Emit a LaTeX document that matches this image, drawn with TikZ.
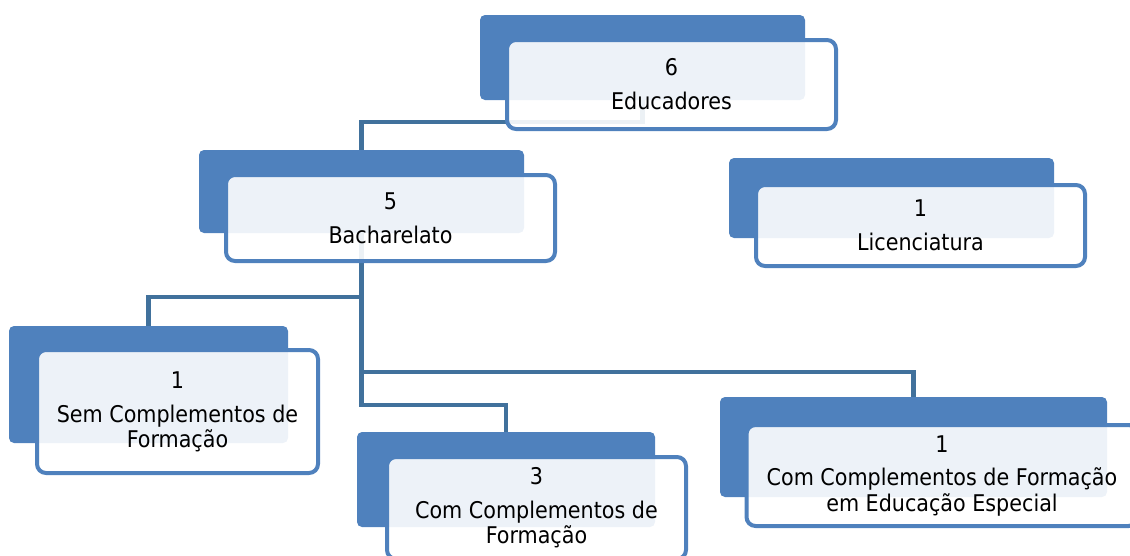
\documentclass[tikz,border=0pt]{standalone}
\usepackage{fontspec}
\setmainfont{DejaVu Sans Condensed}
\definecolor{backblue}{HTML}{4F81BD}
\definecolor{lineblue}{HTML}{41719C}
\tikzset{
  backbox/.style={fill=backblue, rounded corners=5pt, inner sep=0pt},
  frontbox/.style={draw=backblue, line width=4pt, fill=white, fill opacity=0.9,
    text opacity=1, rounded corners=9pt, align=center, inner sep=0pt,
    font=\fontsize{23}{25}\selectfont},
  link/.style={draw=lineblue, line width=4.5pt}
}
\begin{document}
\begin{tikzpicture}[x=1pt,y=-1pt]
	\useasboundingbox (0,0) rectangle (1130,555);
	\clip (0,0) rectangle (1130,555);
	% back boxes
	\node[backbox, minimum width=325pt, minimum height=85pt] (edu) at (642.5,57.5) {};
	\node[backbox, minimum width=325pt, minimum height=83pt] (bach) at (361.5,191.5) {};
	\node[backbox, minimum width=325pt, minimum height=80pt] (lic) at (891.5,198) {};
	\node[backbox, minimum width=279pt, minimum height=117pt] (sem) at (148.5,384.5) {};
	\node[backbox, minimum width=298pt, minimum height=95pt] (com) at (506,479.5) {};
	\node[backbox, minimum width=387pt, minimum height=100pt] (esp) at (913.5,447) {};
	% connectors
	\draw[link] (edu.south) -- ++(0,22) -| (bach.north);
	\draw[link] (bach.south) -- ++(0,64) -| (sem.north);
	\draw[link] (bach.south) -- ++(0,139) -| (esp.north);
	\draw[link] (bach.south) -- ++(0,172) -| (com.north);
	% front boxes
	\node[frontbox, minimum width=329pt, minimum height=89pt] (edutxt) at (671.5,84.5) {6\\[9pt]Educadores};
	\node[frontbox, minimum width=329pt, minimum height=86pt] (bachtxt) at (390.5,218) {5\\[9pt]Bacharelato};
	\node[frontbox, minimum width=329pt, minimum height=81pt] (lictxt) at (920.5,225.5) {1\\[9pt]Licenciatura};
	\node[frontbox, minimum width=281pt, minimum height=123pt] (semtxt) at (177.5,411.5) {1\\[9pt]Sem Complementos de\\Formação};
	\node[frontbox, minimum width=299pt, minimum height=102pt] (comtxt) at (536.5,508) {3\\[9pt]Com Complementos de\\Formação};
	\node[frontbox, minimum width=391pt, minimum height=101pt] (esptxt) at (942,475.5) {1\\[9pt]Com Complementos de Formação\\em Educação Especial};
\end{tikzpicture}
\end{document}
